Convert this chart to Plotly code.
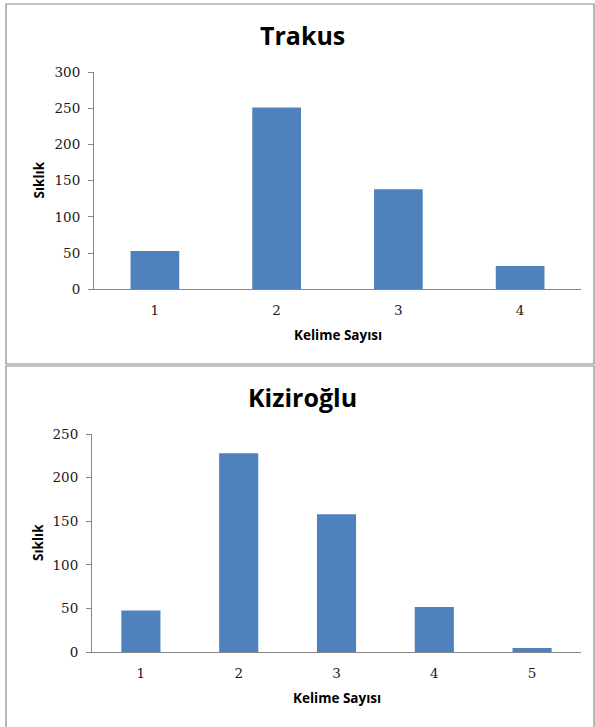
import plotly.graph_objects as go

W, H = 595, 727

# Data
trakus_cats = [1, 2, 3, 4]
trakus_vals = [53, 251, 138, 32]
kiz_cats = [1, 2, 3, 4, 5]
kiz_vals = [48, 228, 158, 52, 5]

trakus_yticks = [0, 50, 100, 150, 200, 250, 300]
kiz_yticks = [0, 50, 100, 150, 200, 250]

BAR = "#4F81BD"
AXIS = "#868686"
SANS = "Open Sans"
TICK_FONT = "DejaVu Serif"


def px_x(x):
    return x / W


def px_y(y):
    return 1 - y / H


fig = go.Figure()
fig.add_trace(go.Bar(x=trakus_cats, y=trakus_vals, marker_color=BAR,
                     marker_line_width=0,
                     xaxis="x", yaxis="y", showlegend=False))
fig.add_trace(go.Bar(x=kiz_cats, y=kiz_vals, marker_color=BAR,
                     marker_line_width=0,
                     xaxis="x2", yaxis="y2", showlegend=False))

xcommon = dict(showline=True, linecolor=AXIS, linewidth=1, showgrid=False,
               zeroline=False, ticks="", tickmode="linear", dtick=1,
               tickfont=dict(family=TICK_FONT, size=13.5, color="#1a1a1a"),
               ticklabelstandoff=8, fixedrange=True)
ycommon = dict(showline=True, linecolor=AXIS, linewidth=1, showgrid=False,
               zeroline=False, ticks="outside", ticklen=5, tickcolor=AXIS,
               tickfont=dict(family=TICK_FONT, size=13.5, color="#1a1a1a"),
               ticklabelstandoff=5, fixedrange=True)

fig.update_layout(
    width=W, height=H,
    margin=dict(l=0, r=0, t=0, b=0, autoexpand=False),
    paper_bgcolor="white", plot_bgcolor="white",
    bargap=0.6,
    xaxis=dict(domain=[px_x(94), px_x(581)], anchor="y", range=[0.5, 4.5],
               **xcommon),
    yaxis=dict(domain=[px_y(289.3), px_y(72)], anchor="x", range=[0, 300],
               tickvals=trakus_yticks, **ycommon),
    xaxis2=dict(domain=[px_x(92), px_x(581)], anchor="y2", range=[0.5, 5.5],
                **xcommon),
    yaxis2=dict(domain=[px_y(652.3), px_y(434)], anchor="x2", range=[0, 250],
                tickvals=kiz_yticks, **ycommon),
)

# Panel borders
fig.add_shape(type="rect", xref="paper", yref="paper",
              x0=px_x(6), x1=px_x(594), y0=px_y(364), y1=px_y(4),
              line=dict(color="#8a8a8a", width=1.2), layer="below")
fig.add_shape(type="rect", xref="paper", yref="paper",
              x0=px_x(6), x1=px_x(594), y0=px_y(740), y1=px_y(366),
              line=dict(color="#8a8a8a", width=1.2), layer="below")

ann = []
# Titles
ann.append(dict(text="<b>Trakus</b>", x=px_x(302), y=px_y(35), xref="paper",
                yref="paper", showarrow=False, xanchor="center", yanchor="middle",
                font=dict(family=SANS, size=25, color="black")))
ann.append(dict(text="<b>Kiziroğlu</b>", x=px_x(302), y=px_y(397), xref="paper",
                yref="paper", showarrow=False, xanchor="center", yanchor="middle",
                font=dict(family=SANS, size=25, color="black")))
# Axis titles
for xc, yc in [(337.5, 335), (336.5, 698)]:
    ann.append(dict(text="<b>Kelime Sayısı</b>", x=px_x(xc), y=px_y(yc),
                    xref="paper", yref="paper", showarrow=False,
                    xanchor="center", yanchor="middle",
                    font=dict(family=SANS, size=13.5, color="black")))
for xc, yc in [(38, 180.5), (38, 543)]:
    ann.append(dict(text="<b>Sıklık</b>", x=px_x(xc), y=px_y(yc),
                    xref="paper", yref="paper", showarrow=False, textangle=-90,
                    xanchor="center", yanchor="middle",
                    font=dict(family=SANS, size=13.5, color="black")))
fig.update_layout(annotations=ann)

fig.write_html(
    "out.html",
    config={"displayModeBar": False},
    post_script=(
        "var h=document.documentElement,b=document.body;"
        "h.style.margin='0';h.style.padding='0';h.style.overflow='hidden';"
        "h.style.height='727px';"
        "b.style.margin='0';b.style.padding='0';b.style.overflow='hidden';"
        "b.style.height='727px';"
    ),
)
